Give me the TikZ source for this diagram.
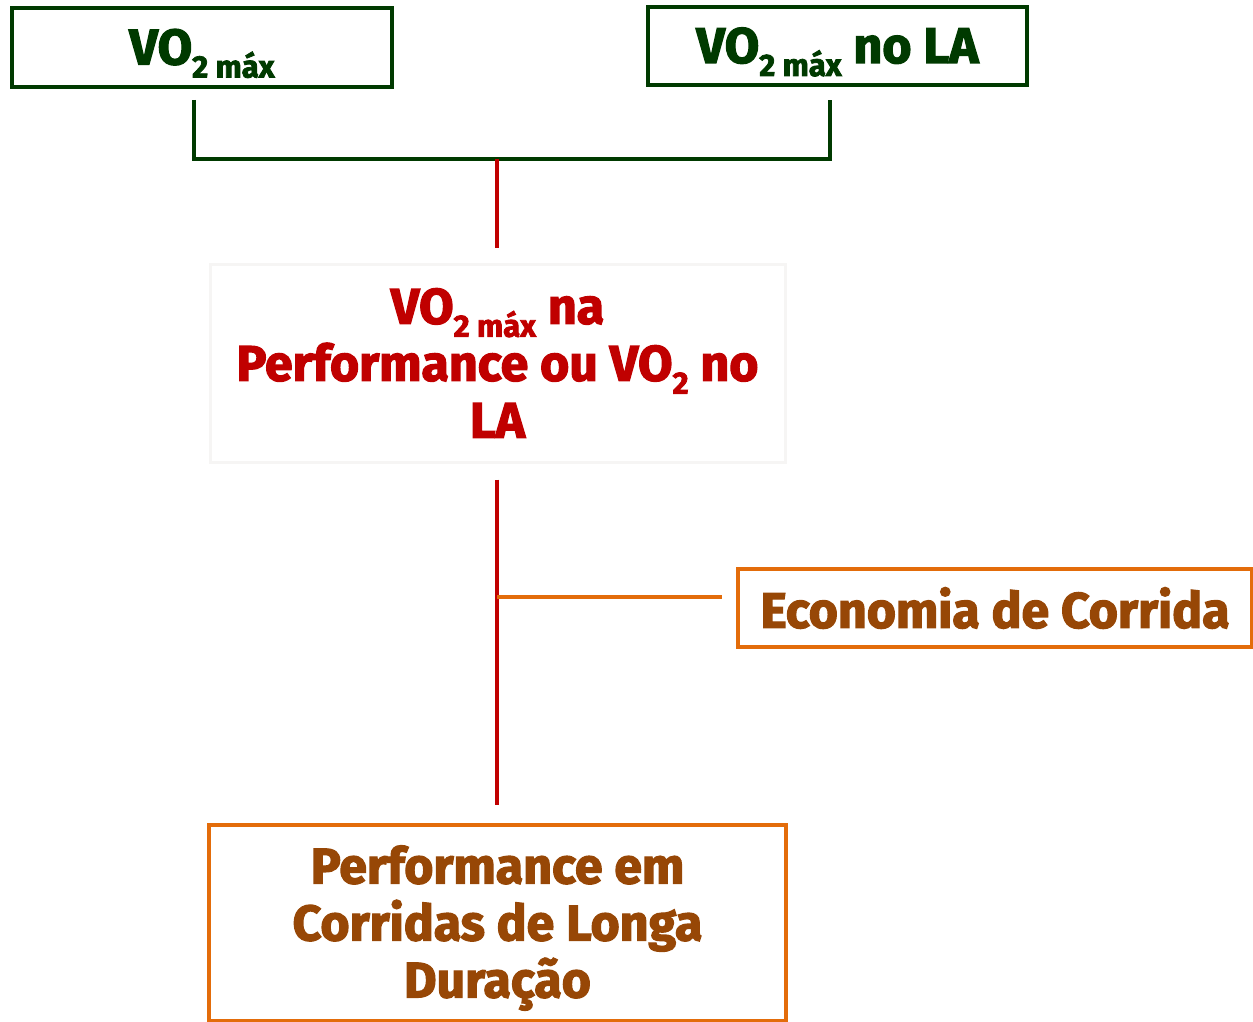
\documentclass[tikz,border=0pt]{standalone}
\usepackage{fontspec}
\setmainfont{Fira Sans}[BoldFeatures={FakeBold=2.5}]
\definecolor{dgreen}{RGB}{0,58,0}
\definecolor{dred}{RGB}{192,0,0}
\definecolor{orng}{RGB}{227,108,10}
\definecolor{brwn}{RGB}{151,71,6}
\definecolor{lgray}{RGB}{246,245,244}
\newcommand{\subx}[1]{\raisebox{-0.26em}{\fontsize{31}{31}\selectfont #1}}
\begin{document}
\begin{tikzpicture}[x=1pt,y=-1pt,
  txt/.style={font=\fontsize{50}{57}\selectfont\bfseries, align=center, inner sep=0pt},
  gbox/.style={draw=dgreen, line width=4pt, txt, text=dgreen},
  obox/.style={draw=orng, line width=4pt, txt, text=brwn},
  gline/.style={draw=dgreen, line width=4pt},
  rline/.style={draw=dred, line width=4pt},
  oline/.style={draw=orng, line width=4pt}]
\useasboundingbox (0,0) rectangle (1253,1022);
\node[gbox, minimum width=380pt, minimum height=79pt] (A) at (202,47.5) {};
\node[txt, text=dgreen] (At) at ([yshift=-6pt]A.center) {VO\subx{2 máx}};
\node[gbox, minimum width=379pt, minimum height=78pt] (B) at (837.5,46) {};
\node[txt, text=dgreen] (Bt) at ([yshift=-6pt]B.center) {VO\subx{2 máx} no LA};
\node[draw=lgray, line width=3pt, txt, text=dred, minimum width=575pt, minimum height=198pt] (M) at (497.5,363)
  {VO\subx{2 máx} na\\Performance ou VO\subx{2} no\\LA};
\node[obox, minimum width=514pt, minimum height=78pt] (E) at (995,608) {Economia de Corrida};
\node[obox, minimum width=577pt, minimum height=196pt] (P) at (497.5,923) {};
\node[txt, text=brwn] (Pt) at ([yshift=-5pt]P.center) {Performance em\\Corridas de Longa\\Duração};
\coordinate (ja) at (194,100);
\coordinate (jb) at (830,100);
\coordinate (ca) at (194,159);
\coordinate (cb) at (830,159);
\coordinate (jm) at (497,159);
\coordinate (jo) at (497,597);
\draw[gline] (ja) -- (ca) -- (cb) -- (jb);
\draw[rline] (jm) -- ([yshift=15pt]M.north -| jm);
\draw[rline] ([yshift=-16pt]M.south -| jm) -- ([yshift=18pt]P.north -| jm);
\draw[oline] (jo) -- ([xshift=-14pt]E.west |- jo);
\end{tikzpicture}
\end{document}
